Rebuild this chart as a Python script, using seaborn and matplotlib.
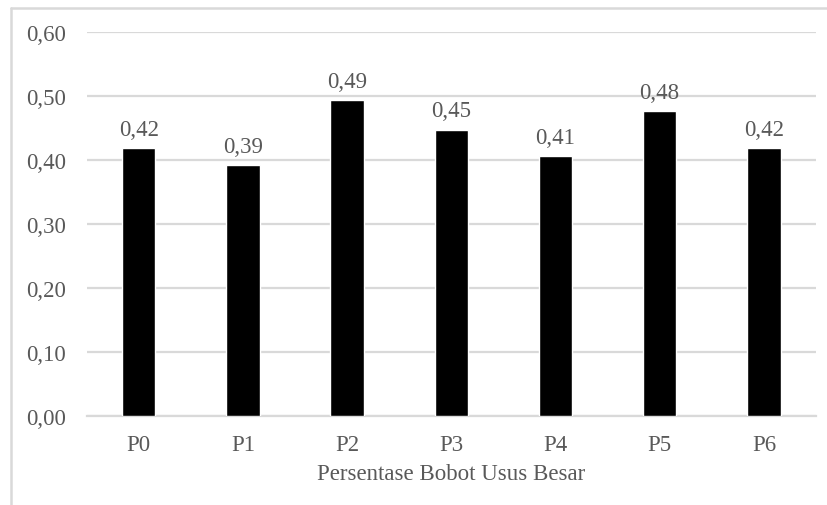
import matplotlib
matplotlib.use("Agg")
import matplotlib.pyplot as plt
from matplotlib.lines import Line2D
import seaborn as sns
import pandas as pd

# Data
categories = ["P0", "P1", "P2", "P3", "P4", "P5", "P6"]
values = [0.418, 0.392, 0.493, 0.447, 0.406, 0.476, 0.418]
y_ticks = [0.0, 0.1, 0.2, 0.3, 0.4, 0.5, 0.6]
x_title = "Persentase Bobot Usus Besar"

TEXT = "#595959"
GRID = "#d9d9d9"
FS = 16.5

sns.set_theme(style="white")
plt.rcParams["font.family"] = ["Liberation Serif", "DejaVu Serif"]

df = pd.DataFrame({"cat": categories, "val": values})

fig = plt.figure(figsize=(8.28, 5.06), dpi=100)
ax = fig.add_axes([0.1045, 0.176, 0.881, 0.759])

sns.barplot(data=df, x="cat", y="val", color="black", width=0.32,
            saturation=1, ax=ax, zorder=3)

ax.set_xlim(-0.5, len(categories) - 0.5)
ax.set_ylim(0, 0.6)
ax.set_yticks(y_ticks)
ax.set_yticklabels([f"{t:.2f}".replace(".", ",") for t in y_ticks])
ax.yaxis.grid(True, color=GRID, linewidth=1.6, zorder=0)
ax.xaxis.grid(False)
for s in ax.spines.values():
    s.set_visible(False)
ax.spines["bottom"].set_visible(True)
ax.spines["bottom"].set_color(GRID)
ax.spines["bottom"].set_linewidth(1.6)

ax.tick_params(axis="both", length=0, labelsize=FS, colors=TEXT)
ax.tick_params(axis="y", pad=15)
ax.tick_params(axis="x", pad=13)
ax.set_ylabel("")
ax.set_xlabel(x_title, fontsize=FS, color=TEXT, labelpad=6)

# Value labels above the bars
for patch, v in zip(ax.patches, values):
    ax.annotate(f"{v:.2f}".replace(".", ","),
                (patch.get_x() + patch.get_width() / 2, patch.get_height()),
                xytext=(0, 6), textcoords="offset points",
                ha="center", va="bottom", fontsize=FS, color=TEXT)

# Outer chart frame (left and top edges)
fig.add_artist(Line2D([11 / 828, 11 / 828], [0, 1 - 9 / 506],
                      transform=fig.transFigure, color=GRID, linewidth=1.8))
fig.add_artist(Line2D([11 / 828, 1], [1 - 9 / 506, 1 - 9 / 506],
                      transform=fig.transFigure, color=GRID, linewidth=1.8))

fig.savefig("out.png", dpi=100, facecolor="white")
